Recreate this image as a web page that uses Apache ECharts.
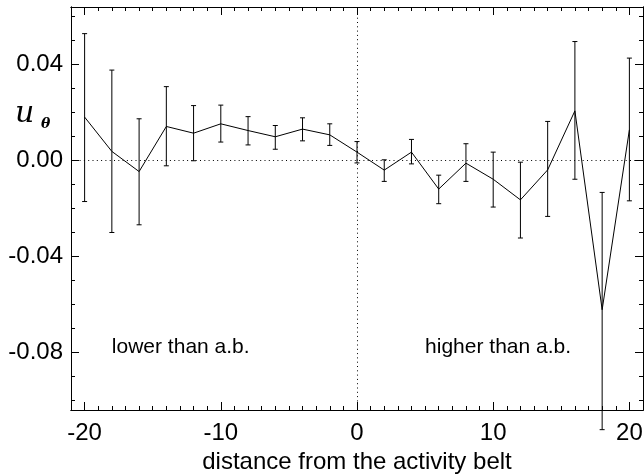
<!DOCTYPE html>
<html>
<head>
<meta charset="utf-8">
<script src="https://cdn.jsdelivr.net/npm/echarts@6/dist/echarts.min.js"></script>
<style>
  html, body { margin: 0; padding: 0; background: #fff; }
  #chart { width: 644px; height: 474px; }
</style>
</head>
<body>
<div id="chart"></div>
<script>
// distance from the activity belt (deg) and u_theta with its error bars
const distance = [-20, -18, -16, -14, -12, -10, -8, -6, -4, -2, 0, 2, 4, 6, 8, 10, 12, 14, 16, 18, 20];
const uTheta = [0.0181, 0.0038, -0.0046, 0.0142, 0.0114, 0.0153, 0.0125, 0.0099, 0.0131, 0.0107, 0.0035,
  -0.0040, 0.0035, -0.0119, -0.0011, -0.0078, -0.0164, -0.0039, 0.0207, -0.0622, 0.0128];
const errHigh = [0.0529, 0.0377, 0.0174, 0.0308, 0.0229, 0.0231, 0.0183, 0.0146, 0.0178, 0.0153, 0.0079,
  0.0003, 0.0088, -0.0061, 0.0070, 0.0035, -0.0007, 0.0163, 0.0496, -0.0133, 0.0427];
const errLow = [-0.0171, -0.0300, -0.0268, -0.0022, -0.0001, 0.0077, 0.0065, 0.0047, 0.0082, 0.0063, -0.0010,
  -0.0087, -0.0014, -0.0180, -0.0087, -0.0194, -0.0323, -0.0233, -0.0078, -0.1122, -0.0168];

const xMajorTicks = [-20, -10, 0, 10, 20];
const xMinorTicks = [-21, -20, -19, -18, -17, -16, -15, -14, -13, -12, -11, -10, -9, -8, -7, -6, -5, -4, -3, -2, -1,
  0, 1, 2, 3, 4, 5, 6, 7, 8, 9, 10, 11, 12, 13, 14, 15, 16, 17, 18, 19, 20, 21];
const yMajorTicks = [-0.08, -0.04, 0, 0.04];
const yMinorTicks = [-0.10, -0.09, -0.08, -0.07, -0.06, -0.05, -0.04, -0.03, -0.02, -0.01,
  0, 0.01, 0.02, 0.03, 0.04, 0.05, 0.06];

const notes = [
  { text: 'lower than a.b.', x: -18, y: -0.08 },
  { text: 'higher than a.b.', x: 5, y: -0.08 }
];

const font = 'Liberation Sans';
const chart = echarts.init(document.getElementById('chart'));

// one axis per side for the long ticks, one more for the short ones
function frameAxis(position, min, max, ticks, len, extra) {
  return Object.assign({
    type: 'value',
    position,
    min,
    max,
    axisLine: { show: true, onZero: false, lineStyle: { color: '#000', width: 1 } },
    axisTick: { show: true, inside: true, length: len, customValues: ticks, lineStyle: { color: '#000', width: 1 } },
    axisLabel: { show: false },
    splitLine: { show: false }
  }, extra || {})
}

const xMin = -21, xMax = 21;
const yMin = -0.104, yMax = 0.064;

const option = {
  animation: false,
  backgroundColor: '#fff',
  grid: { left: 71, right: 1, top: 7, bottom: 64, outerBoundsMode: 'none' },
  xAxis: [
    frameAxis('bottom', xMin, xMax, xMajorTicks, 8, {
      axisLabel: {
        show: true, customValues: xMajorTicks, color: '#000', fontFamily: font, fontSize: 24, margin: 11
      },
      name: 'distance from the activity belt',
      nameLocation: 'middle',
      nameGap: 38,
      nameTextStyle: { color: '#000', fontFamily: font, fontSize: 24 }
    }),
    frameAxis('bottom', xMin, xMax, xMinorTicks, 4),
    frameAxis('top', xMin, xMax, xMajorTicks, 8),
    frameAxis('top', xMin, xMax, xMinorTicks, 4)
  ],
  yAxis: [
    frameAxis('left', yMin, yMax, yMajorTicks, 8, {
      axisLabel: {
        show: true, customValues: yMajorTicks, color: '#000', fontFamily: font, fontSize: 24, margin: 8,
        formatter: (v) => v.toFixed(2)
      }
    }),
    frameAxis('left', yMin, yMax, yMinorTicks, 4),
    frameAxis('right', yMin, yMax, yMajorTicks, 8),
    frameAxis('right', yMin, yMax, yMinorTicks, 4)
  ],
  series: [
    {
      type: 'custom',
      clip: false,
      data: distance.map((d, i) => [d, errLow[i], errHigh[i]]),
      encode: { x: 0, y: [1, 2] },
      renderItem(params, api) {
        const lo = api.coord([api.value(0), api.value(1)]);
        const hi = api.coord([api.value(0), api.value(2)]);
        const w = 2.5;
        const style = { stroke: '#000', lineWidth: 1 };
        return {
          type: 'group',
          children: [
            { type: 'line', shape: { x1: lo[0], y1: lo[1], x2: hi[0], y2: hi[1] }, style },
            { type: 'line', shape: { x1: hi[0] - w, y1: hi[1], x2: hi[0] + w, y2: hi[1] }, style },
            { type: 'line', shape: { x1: lo[0] - w, y1: lo[1], x2: lo[0] + w, y2: lo[1] }, style }
          ]
        }
      }
    },
    {
      type: 'line',
      data: distance.map((d, i) => [d, uTheta[i]]),
      symbol: 'none',
      lineStyle: { color: '#000', width: 1 },
      z: 3,
      markLine: {
        silent: true,
        symbol: ['none', 'none'],
        label: { show: false },
        lineStyle: { color: '#000', width: 1, type: [1, 3.3] },
        data: [{ xAxis: 0 }, { yAxis: 0 }]
      }
    }
  ]
};

chart.setOption(option);

// texts placed at data positions (baseline roughly on the value)
const texts = notes.map((n) => {
  const p = chart.convertToPixel({ xAxisIndex: 0, yAxisIndex: 0 }, [n.x, n.y]);
  return {
    type: 'text',
    x: p[0],
    y: p[1] + 5,
    style: { text: n.text, fill: '#000', font: '21px "Liberation Sans"', align: 'left', verticalAlign: 'bottom' }
  }
});

chart.setOption({
  graphic: texts.concat([
    {
      type: 'text', left: 15, top: 99,
      style: { text: 'u', fill: '#000', font: 'italic 30px "DejaVu Serif"' }
    },
    {
      type: 'text', left: 41, top: 117,
      style: { text: 'θ', fill: '#000', font: 'italic bold 14px "DejaVu Serif"' }
    }
  ])
});
</script>
</body>
</html>
